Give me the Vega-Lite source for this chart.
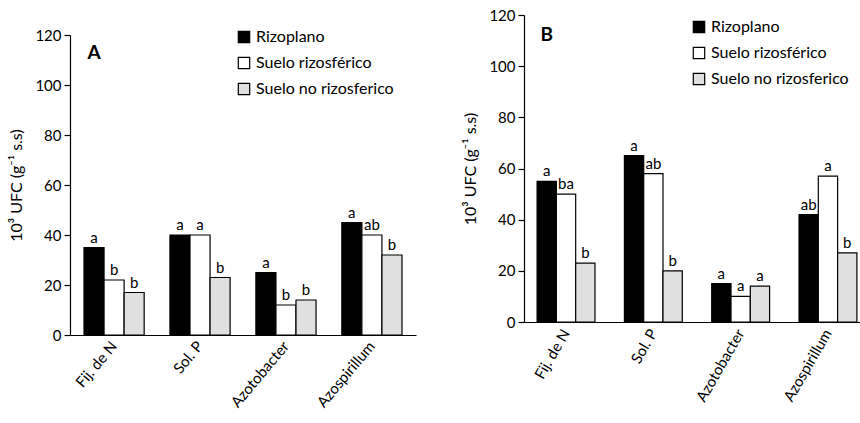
{
  "$schema": "https://vega.github.io/schema/vega-lite/v6.json",
  "background": "white",
  "padding": {"left": 8, "top": 8, "right": 0, "bottom": 0},
  "spacing": 46,
  "config": {
    "font": "Lato",
    "view": {"stroke": null},
    "axis": {"domainColor": "black", "tickColor": "black", "labelColor": "black", "titleColor": "black", "grid": false, "labelFontSize": 15, "titleFontSize": 16, "titleFontWeight": "normal", "domainWidth": 1.2, "tickWidth": 1.2},
    "legend": {"labelFontSize": 16, "labelColor": "black", "symbolType": "square", "symbolSize": 130, "symbolStrokeColor": "black", "symbolStrokeWidth": 1.2, "rowPadding": 8, "labelOffset": 4, "title": null}
  },
  "datasets": {
    "A": [
      {"grupo": "Fij. de N", "serie": "Rizoplano", "valor": 35, "letra": "a"},
      {"grupo": "Fij. de N", "serie": "Suelo rizosférico", "valor": 22, "letra": "b"},
      {"grupo": "Fij. de N", "serie": "Suelo no rizosferico", "valor": 17, "letra": "b"},
      {"grupo": "Sol. P", "serie": "Rizoplano", "valor": 40, "letra": "a"},
      {"grupo": "Sol. P", "serie": "Suelo rizosférico", "valor": 40, "letra": "a"},
      {"grupo": "Sol. P", "serie": "Suelo no rizosferico", "valor": 23, "letra": "b"},
      {"grupo": "Azotobacter", "serie": "Rizoplano", "valor": 25, "letra": "a"},
      {"grupo": "Azotobacter", "serie": "Suelo rizosférico", "valor": 12, "letra": "b"},
      {"grupo": "Azotobacter", "serie": "Suelo no rizosferico", "valor": 14, "letra": "b"},
      {"grupo": "Azospirillum", "serie": "Rizoplano", "valor": 45, "letra": "a"},
      {"grupo": "Azospirillum", "serie": "Suelo rizosférico", "valor": 40, "letra": "ab"},
      {"grupo": "Azospirillum", "serie": "Suelo no rizosferico", "valor": 32, "letra": "b"}
    ],
    "B": [
      {"grupo": "Fij. de N", "serie": "Rizoplano", "valor": 55, "letra": "a"},
      {"grupo": "Fij. de N", "serie": "Suelo rizosférico", "valor": 50, "letra": "ba"},
      {"grupo": "Fij. de N", "serie": "Suelo no rizosferico", "valor": 23, "letra": "b"},
      {"grupo": "Sol. P", "serie": "Rizoplano", "valor": 65, "letra": "a"},
      {"grupo": "Sol. P", "serie": "Suelo rizosférico", "valor": 58, "letra": "ab"},
      {"grupo": "Sol. P", "serie": "Suelo no rizosferico", "valor": 20, "letra": "b"},
      {"grupo": "Azotobacter", "serie": "Rizoplano", "valor": 15, "letra": "a"},
      {"grupo": "Azotobacter", "serie": "Suelo rizosférico", "valor": 10, "letra": "a"},
      {"grupo": "Azotobacter", "serie": "Suelo no rizosferico", "valor": 14, "letra": "a"},
      {"grupo": "Azospirillum", "serie": "Rizoplano", "valor": 42, "letra": "ab"},
      {"grupo": "Azospirillum", "serie": "Suelo rizosférico", "valor": 57, "letra": "a"},
      {"grupo": "Azospirillum", "serie": "Suelo no rizosferico", "valor": 27, "letra": "b"}
    ]
  },
  "hconcat": [
    {
      "width": 346,
      "height": 320,
      "data": {"name": "A"},
      "encoding": {
        "x": {"field": "grupo", "type": "nominal", "sort": ["Fij. de N", "Sol. P", "Azotobacter", "Azospirillum"], "scale": {"paddingInner": 0.3, "paddingOuter": 0.163}, "axis": {"title": null, "ticks": false, "labelAngle": -50, "labelPadding": 8}},
        "xOffset": {"field": "serie", "type": "nominal", "sort": ["Rizoplano", "Suelo rizosférico", "Suelo no rizosferico"], "scale": {"paddingInner": 0, "paddingOuter": 0}},
        "y": {"field": "valor", "type": "quantitative", "scale": {"domain": [0, 120], "nice": false, "range": [320, 20]}, "axis": {"title": "10³ UFC (g⁻¹ s.s)", "values": [0, 20, 40, 60, 80, 100, 120], "tickSize": 6, "labelPadding": 3, "titlePadding": 10}}
      },
      "layer": [
        {
          "mark": {"type": "bar", "stroke": "black", "strokeWidth": 1.2},
          "encoding": {
            "color": {"field": "serie", "type": "nominal", "sort": ["Rizoplano", "Suelo rizosférico", "Suelo no rizosferico"], "scale": {"domain": ["Rizoplano", "Suelo rizosférico", "Suelo no rizosferico"], "range": ["#000000", "#ffffff", "#e0e0e0"]}, "legend": {"orient": "none", "legendX": 166, "legendY": 14}}
          }
        },
        {"mark": {"type": "text", "dy": -10, "fontSize": 15, "color": "black"}, "encoding": {"text": {"field": "letra"}}},
        {
          "data": {"values": [{"grupo": "Fij. de N", "serie": "Rizoplano", "valor": 113, "letra": "A"}]},
          "mark": {"type": "text", "fontSize": 19, "fontWeight": "bold", "color": "black"},
          "encoding": {"text": {"field": "letra"}}
        }
      ]
    },
    {
      "width": 346,
      "height": 307,
      "data": {"name": "B"},
      "encoding": {
        "x": {"field": "grupo", "type": "nominal", "sort": ["Fij. de N", "Sol. P", "Azotobacter", "Azospirillum"], "scale": {"paddingInner": 0.337, "paddingOuter": 0.15}, "axis": {"title": null, "ticks": false, "labelAngle": -60, "labelPadding": 8}},
        "xOffset": {"field": "serie", "type": "nominal", "sort": ["Rizoplano", "Suelo rizosférico", "Suelo no rizosferico"], "scale": {"paddingInner": 0, "paddingOuter": 0}},
        "y": {"field": "valor", "type": "quantitative", "scale": {"domain": [0, 120], "nice": false}, "axis": {"title": "10³ UFC (g⁻¹ s.s)", "values": [0, 20, 40, 60, 80, 100, 120], "tickSize": 6, "labelPadding": 3, "titlePadding": 10}}
      },
      "layer": [
        {
          "mark": {"type": "bar", "stroke": "black", "strokeWidth": 1.2},
          "encoding": {
            "color": {"field": "serie", "type": "nominal", "sort": ["Rizoplano", "Suelo rizosférico", "Suelo no rizosferico"], "scale": {"domain": ["Rizoplano", "Suelo rizosférico", "Suelo no rizosferico"], "range": ["#000000", "#ffffff", "#e0e0e0"]}, "legend": {"orient": "none", "legendX": 167, "legendY": 4}}
          }
        },
        {"mark": {"type": "text", "dy": -10, "fontSize": 15, "color": "black"}, "encoding": {"text": {"field": "letra"}}},
        {
          "data": {"values": [{"grupo": "Fij. de N", "serie": "Rizoplano", "valor": 112, "letra": "B"}]},
          "mark": {"type": "text", "fontSize": 19, "fontWeight": "bold", "color": "black"},
          "encoding": {"text": {"field": "letra"}}
        }
      ]
    }
  ],
  "resolve": {"scale": {"color": "independent", "x": "independent", "y": "independent", "xOffset": "independent"}, "legend": {"color": "independent"}}
}
